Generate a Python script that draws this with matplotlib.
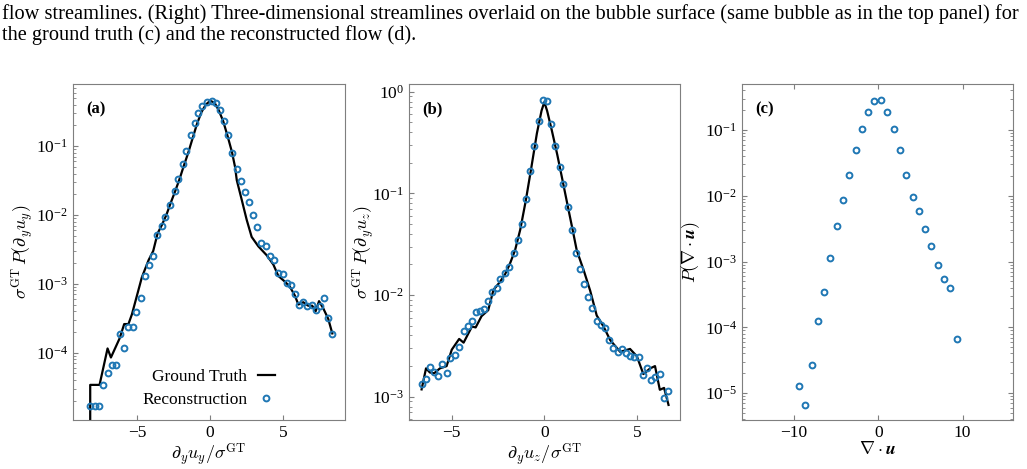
import matplotlib
matplotlib.use('Agg')
import matplotlib.pyplot as plt
import numpy as np

plt.rcParams['font.family'] = 'serif'
plt.rcParams['font.serif'] = ['Liberation Serif', 'DejaVu Serif']
plt.rcParams['mathtext.fontset'] = 'stix'

# (a) d_y u_y
rec_a_x = [-8.24, -7.92, -7.63, -7.35, -7.03, -6.76, -6.46, -6.21, -5.91, -5.62,
           -5.32, -5.05, -4.75, -4.45, -4.20, -3.90, -3.63, -3.33, -3.06, -2.74,
           -2.44, -2.21, -1.89, -1.64, -1.32, -1.05, -0.82, -0.53, -0.23,
           0.11, 0.39, 0.68, 0.96, 1.26, 1.53, 1.83, 2.10, 2.40, 2.67,
           2.92, 3.24, 3.52, 3.81, 4.11, 4.41, 4.68, 4.98, 5.25, 5.55,
           5.82, 6.07, 6.39, 6.67, 6.96, 7.24, 7.51, 7.79, 8.08, 8.38]
rec_a_y = [1.67e-5, 1.67e-5, 1.67e-5, 3.4e-5, 5.0e-5, 6.6e-5, 6.6e-5, 1.86e-4, 1.17e-4, 2.34e-4,
           2.34e-4, 3.9e-4, 6.3e-4, 1.28e-3, 1.9e-3, 2.5e-3, 5.1e-3, 6.9e-3, 9.3e-3, 0.0142,
           0.022, 0.033, 0.055, 0.085, 0.144, 0.22, 0.30, 0.38, 0.44,
           0.458, 0.42, 0.34, 0.23, 0.145, 0.080, 0.046, 0.031, 0.0215, 0.0154,
           0.0100, 0.0067, 0.0039, 0.0035, 0.0025, 0.0022, 0.00145, 0.00138, 0.00104, 0.00095,
           0.00071, 0.00050, 0.00055, 0.00048, 0.00049, 0.00041, 0.00047, 0.00062, 0.00032, 0.000186]
gt_a_x = [-8.22, -8.22, -7.58, -7.03, -6.80, -6.21, -5.89, -5.60, -5.36, -4.68,
          -4.22, -3.90, -3.60, -3.30, -3.00, -2.70, -2.40, -2.10, -1.80, -1.50,
          -1.20, -0.90, -0.60, -0.30, 0.00, 0.30, 0.60, 0.90, 1.20, 1.50,
          1.71, 1.83, 2.17, 2.51, 2.85, 3.31, 3.88, 4.34, 4.68, 5.14,
          5.48, 5.82, 6.05, 6.39, 6.73, 7.00, 7.24, 7.47, 7.76, 8.10, 8.38]
gt_a_y = [1e-6, 3.4e-5, 3.4e-5, 1.15e-4, 8.5e-5, 1.6e-4, 2.6e-4, 2.6e-4, 3.6e-4, 1.24e-3,
          2.2e-3, 3.0e-3, 5.4e-3, 7.2e-3, 0.0100, 0.0150, 0.022, 0.033, 0.052, 0.080,
          0.13, 0.21, 0.31, 0.40, 0.455, 0.43, 0.33, 0.23, 0.14, 0.082,
          0.050, 0.032, 0.0166, 0.0085, 0.0048, 0.0035, 0.0026, 0.0019, 0.0013, 0.00107,
          0.00090, 0.00067, 0.00050, 0.00054, 0.00048, 0.00048, 0.00040, 0.00056, 0.00044, 0.00031, 0.00019]

# (b) d_y u_z
rec_b_x = [-6.63, -6.39, -6.18, -5.95, -5.73, -5.51, -5.28, -5.08, -4.83, -4.61,
           -4.36, -4.14, -3.91, -3.71, -3.48, -3.24, -3.03, -2.81, -2.57, -2.38,
           -2.12, -1.89, -1.65, -1.44, -1.21, -0.99, -0.76, -0.54, -0.30, -0.09,
           0.16, 0.36, 0.60, 0.83, 1.03, 1.28, 1.50, 1.73, 1.93, 2.15,
           2.38, 2.59, 2.83, 3.06, 3.30, 3.50, 3.73, 3.97, 4.20, 4.42,
           4.63, 4.86, 5.12, 5.32, 5.53, 5.77, 5.98, 6.24, 6.47, 6.69]
rec_b_y = [0.00134, 0.00151, 0.00194, 0.00173, 0.0016, 0.0021, 0.0017, 0.0024, 0.0026, 0.0031,
           0.0044, 0.0050, 0.0055, 0.0068, 0.0070, 0.0073, 0.0088, 0.0108, 0.0117, 0.0144,
           0.0166, 0.019, 0.0257, 0.035, 0.050, 0.0875, 0.165, 0.29, 0.52, 0.83,
           0.81, 0.48, 0.295, 0.183, 0.124, 0.073, 0.044, 0.026, 0.018, 0.0128,
           0.0095, 0.0074, 0.0055, 0.0051, 0.0047, 0.0036, 0.0030, 0.00275, 0.00295, 0.0027,
           0.0025, 0.00247, 0.00247, 0.00163, 0.0019, 0.00147, 0.00155, 0.00166, 0.00097, 0.00113]
gt_b_x = [-6.63, -6.39, -6.18, -5.95, -5.64, -5.28, -5.00, -4.60, -4.36, -3.91,
          -3.71, -3.39, -3.03, -2.75, -2.39, -2.12, -1.85, -1.58, -1.30, -1.00,
          -0.70, -0.40, -0.15, 0.00, 0.15, 0.40, 0.70, 1.00, 1.30, 1.55,
          1.75, 2.15, 2.48, 2.83, 3.20, 3.56, 4.10, 4.63, 5.00, 5.35,
          5.72, 5.98, 6.24, 6.47, 6.71]
gt_b_y = [0.00118, 0.0019, 0.00173, 0.0017, 0.0019, 0.0020, 0.0029, 0.0037, 0.0034, 0.0049,
          0.0048, 0.0062, 0.0071, 0.0112, 0.0135, 0.016, 0.0205, 0.0276, 0.044, 0.085,
          0.18, 0.39, 0.65, 0.79, 0.65, 0.42, 0.24, 0.13, 0.07, 0.042,
          0.0276, 0.017, 0.011, 0.0063, 0.0049, 0.0036, 0.00276, 0.00295, 0.0025, 0.00167,
          0.0019, 0.0020, 0.00117, 0.00122, 0.00083]

# (c) div u
rec_c_x = [-9.42, -8.67, -7.88, -7.16, -6.41, -5.70, -4.94, -4.19, -3.44, -2.69,
           -1.94, -1.19, -0.47, 0.32, 1.07, 1.83, 2.58, 3.33, 4.08, 4.80,
           5.55, 6.30, 7.05, 7.80, 8.55, 9.31]
rec_c_y = [1.3e-5, 6.6e-6, 2.7e-5, 1.25e-4, 3.4e-4, 1.14e-3, 3.5e-3, 8.7e-3, 0.021, 0.050,
           0.105, 0.19, 0.275, 0.285, 0.19, 0.105, 0.050, 0.0205, 0.0096, 0.0059,
           0.0031, 0.00174, 0.00089, 0.00055, 0.00040, 6.6e-5]

caption = ["flow streamlines. (Right) Three-dimensional streamlines overlaid on the bubble surface (same bubble as in the top panel) for",
           "the ground truth (c) and the reconstructed flow (d)."]

blue = '#1f77b4'
grey = '#7f7f7f'

fig = plt.figure(figsize=(10.27, 4.69), dpi=100)

# caption, scaled so the first line spans the page width
t1 = fig.text(0.002, 0.971, caption[0], fontsize=12, va='center', ha='left')
fig.canvas.draw()
w = t1.get_window_extent().width
fs = 12 * 1016 / w
t1.set_fontsize(fs)
fig.text(0.002, 0.926, caption[1], fontsize=fs, va='center', ha='left')

ax_a = fig.add_axes([73/1027, 1-420/469, 272/1027, 336/469])
ax_b = fig.add_axes([409/1027, 1-420/469, 271/1027, 336/469])
ax_c = fig.add_axes([742/1027, 1-420/469, 271/1027, 336/469])

ax_a.plot(gt_a_x, gt_a_y, color='k', lw=1.6, label='Ground Truth')
ax_a.plot(rec_a_x, rec_a_y, 'o', mfc='none', mec=blue, ms=4.2, mew=1.4, label='Reconstruction')
ax_b.plot(gt_b_x, gt_b_y, color='k', lw=1.6)
ax_b.plot(rec_b_x, rec_b_y, 'o', mfc='none', mec=blue, ms=4.2, mew=1.4)
ax_c.plot(rec_c_x, rec_c_y, 'o', mfc='none', mec=blue, ms=4.2, mew=1.4)

for ax in (ax_a, ax_b, ax_c):
    ax.set_yscale('log')
    for s in ax.spines.values():
        s.set_color(grey)
    ax.tick_params(which='both', direction='in', color=grey, labelsize=12.5)

ax_a.set_xlim(-9.4, 9.25)
ax_a.set_ylim(1.05e-5, 0.80)
ax_a.set_xticks([-5, 0, 5])
ax_b.set_xlim(-7.31, 7.33)
ax_b.set_ylim(5.9e-4, 1.19)
ax_b.set_xticks([-5, 0, 5])
ax_c.set_xlim(-16.2, 16.0)
ax_c.set_ylim(3.9e-6, 0.50)
ax_c.set_xticks([-10, 0, 10])
ax_c.tick_params(which='both', top=True, right=True)

ax_a.set_xlabel(r'$\partial_y u_y/\sigma^{\rm GT}$', fontsize=13, math_fontfamily='cm', labelpad=0)
ax_a.set_ylabel(r'$\sigma^{\rm GT}\,P(\partial_y u_y)$', fontsize=13, math_fontfamily='cm')
ax_b.set_xlabel(r'$\partial_y u_z/\sigma^{\rm GT}$', fontsize=13, math_fontfamily='cm', labelpad=0)
ax_b.set_ylabel(r'$\sigma^{\rm GT}\,P(\partial_y u_z)$', fontsize=13, math_fontfamily='cm')
ax_c.set_xlabel(r'$\nabla\cdot\boldsymbol{u}$', fontsize=13, math_fontfamily='cm', labelpad=0)
ax_c.set_ylabel(r'$P(\nabla\cdot\boldsymbol{u})$', fontsize=13, math_fontfamily='cm')
ax_a.yaxis.set_label_coords(-0.135, 0.5)
ax_b.yaxis.set_label_coords(-0.118, 0.5)
ax_c.yaxis.set_label_coords(-0.148, 0.5)

for ax, lab in zip((ax_a, ax_b, ax_c), ('(a)', '(b)', '(c)')):
    ax.text(0.05, 0.925, lab, transform=ax.transAxes, fontsize=12, fontweight='bold', va='center')

ax_a.legend(loc='lower right', bbox_to_anchor=(0.80, -0.012), frameon=False, markerfirst=False,
            fontsize=12.5, handlelength=1.0, handletextpad=0.6, labelspacing=0.4)

fig.savefig('out.png', dpi=100)
